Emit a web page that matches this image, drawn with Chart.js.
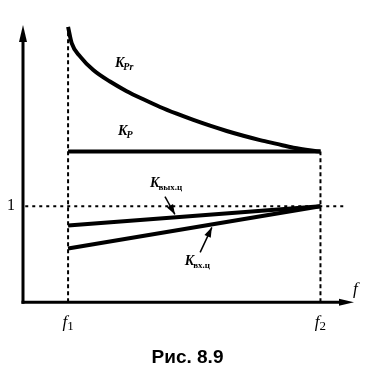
<!DOCTYPE html>
<html><head><meta charset="utf-8">
<script src="https://cdn.jsdelivr.net/npm/chart.js@4/dist/chart.umd.min.js"></script>
<style>html,body{margin:0;padding:0;background:#fff}#wrap{width:375px;height:375px}</style>
</head><body><div id="wrap"><canvas id="c" width="375" height="375"></canvas></div>
<script>
// ---- data ----
const F1 = 1.0, F2 = 6.6;
const kprF  = [1.00, 1.08, 1.27, 1.56, 1.93, 2.30, 2.67, 3.04, 3.41, 3.78, 4.15, 4.52, 4.89, 5.26, 5.63, 6.00, 6.60];
const kprK  = [2.87, 2.70, 2.56, 2.42, 2.30, 2.20, 2.115, 2.035, 1.965, 1.90, 1.84, 1.785, 1.735, 1.69, 1.65, 1.61, 1.57];
const kpF   = [F1, F2];
const kpK   = [1.57, 1.57];
const kvyhF = [F1, F2];
const kvyhK = [0.80, 1.00];
const kvhF  = [F1, F2];
const kvhK  = [0.56, 1.00];
const unityF = [0.05, 7.14];
const unityK = [1, 1];
const xTicks = [F1, F2];
const xTickMain = ['f', 'f'];
const xTickSub  = ['1', '2'];
const yTicks = [1];
const yTickLabels = ['1'];
const X_MAX = 7.81, X_AXIS_END = 7.3, Y_MAX = 2.9;

const pts = (fs, ks) => fs.map((f, i) => ({x: f, y: ks[i]}));
const interp = (fs, ks, f) => {
  for (let i = 0; i < fs.length - 1; i++) {
    if (f >= fs[i] && f <= fs[i+1]) return ks[i] + (ks[i+1]-ks[i])*(f-fs[i])/(fs[i+1]-fs[i]);
  }
  return ks[ks.length-1];
};

// label placement (layout, in data units)
const curveLabels = [
  {main: 'K', sub: 'Pr',    f: 2.04, k: 2.45},
  {main: 'K', sub: 'P',     f: 2.11, k: 1.74},
  {main: 'K', sub: 'вых.ц', f: 2.82, k: 1.20},
  {main: 'K', sub: 'вх.ц',  f: 3.59, k: 0.39}
];
const pointers = [
  {fromF: 3.15, fromK: 1.10, toF: 3.37, fs: kvyhF, ks: kvyhK, dk: 0.03},
  {fromF: 3.93, fromK: 0.52, toF: 4.19, fs: kvhF,  ks: kvhK,  dk: -0.03}
];

function arrowHead(ctx, x1, y1, x2, y2, len, half) {
  const a = Math.atan2(y2 - y1, x2 - x1);
  ctx.beginPath();
  ctx.moveTo(x2, y2);
  ctx.lineTo(x2 - len*Math.cos(a) + half*Math.sin(a), y2 - len*Math.sin(a) - half*Math.cos(a));
  ctx.lineTo(x2 - len*Math.cos(a) - half*Math.sin(a), y2 - len*Math.sin(a) + half*Math.cos(a));
  ctx.closePath();
  ctx.fill();
}

const decor = {
  id: 'decor',
  afterDatasetsDraw(chart) {
    const {ctx} = chart;
    const xs = chart.scales.x, ys = chart.scales.y;
    const x0 = xs.getPixelForValue(0), y0 = ys.getPixelForValue(0);
    const yTop = ys.getPixelForValue(Y_MAX), xEnd = xs.getPixelForValue(X_AXIS_END);
    ctx.save();
    ctx.fillStyle = '#000'; ctx.strokeStyle = '#000';
    // axes
    ctx.lineWidth = 3; ctx.lineCap = 'butt';
    ctx.beginPath(); ctx.moveTo(x0, y0 + 1.5); ctx.lineTo(x0, yTop + 10); ctx.stroke();
    ctx.beginPath(); ctx.moveTo(x0 - 1.5, y0); ctx.lineTo(xEnd - 8, y0); ctx.stroke();
    arrowHead(ctx, x0, y0, x0, yTop + 1, 17, 4);
    arrowHead(ctx, x0, y0, xEnd + 2, y0, 15, 3.5);
    // axis name f
    ctx.font = 'italic 17px "Liberation Serif"';
    ctx.textAlign = 'left'; ctx.textBaseline = 'alphabetic';
    ctx.fillText('f', xEnd + 1, y0 - 8);
    // x tick labels f1, f2 (from the scale's ticks)
    xs.ticks.forEach((t, i) => {
      const px = xs.getPixelForValue(t.value);
      ctx.font = 'italic 17px "Liberation Serif"';
      const wm = ctx.measureText(xTickMain[i]).width;
      ctx.font = '13px "Liberation Serif"';
      const ws = ctx.measureText(xTickSub[i]).width;
      const left = px - (wm + ws) / 2;
      ctx.font = 'italic 17px "Liberation Serif"';
      ctx.fillText(xTickMain[i], left, y0 + 25);
      ctx.font = '13px "Liberation Serif"';
      ctx.fillText(xTickSub[i], left + wm, y0 + 28);
    });
    // curve labels
    curveLabels.forEach(l => {
      const px = xs.getPixelForValue(l.f), py = ys.getPixelForValue(l.k);
      ctx.font = 'italic bold 14px "Liberation Serif"';
      ctx.fillText(l.main, px, py);
      const w = ctx.measureText(l.main).width;
      ctx.font = (l.sub.length > 2 ? 'bold 9px' : 'italic bold 10px') + ' "Liberation Serif"';
      ctx.fillText(l.sub, px + w - 1, py + 3);
    });
    // pointer arrows
    ctx.lineWidth = 1.5;
    pointers.forEach(p => {
      const x1 = xs.getPixelForValue(p.fromF), y1 = ys.getPixelForValue(p.fromK);
      const tk = interp(p.fs, p.ks, p.toF) + p.dk;
      const x2 = xs.getPixelForValue(p.toF), y2 = ys.getPixelForValue(tk);
      ctx.beginPath(); ctx.moveTo(x1, y1); ctx.lineTo(x2, y2); ctx.stroke();
      arrowHead(ctx, x1, y1, x2, y2, 10, 3.5);
    });
    ctx.restore();
  }
};

const solid = {borderColor: '#000', borderWidth: 4, pointRadius: 0, fill: false, order: 1};
const dashed = {borderColor: '#000', borderWidth: 2, pointRadius: 0, fill: false, order: 2, tension: 0};

new Chart(document.getElementById('c'), {
  type: 'line',
  data: {
    datasets: [
      Object.assign({label: 'K_Pr', data: pts(kprF, kprK), cubicInterpolationMode: 'monotone'}, solid),
      Object.assign({label: 'K_P', data: pts(kpF, kpK)}, solid),
      Object.assign({label: 'K_вых.ц', data: pts(kvyhF, kvyhK)}, solid),
      Object.assign({label: 'K_вх.ц', data: pts(kvhF, kvhK)}, solid),
      Object.assign({label: 'f1', data: [{x: F1, y: 0}, {x: F1, y: kprK[0]}], borderDash: [4, 3]}, dashed),
      Object.assign({label: 'f2', data: [{x: F2, y: 0}, {x: F2, y: kpK[1]}], borderDash: [4, 3]}, dashed),
      Object.assign({label: '1', data: pts(unityF, unityK), borderDash: [3, 4]}, dashed)
    ]
  },
  options: {
    responsive: false,
    animation: false,
    layout: {padding: {top: 24, right: 0, left: 0, bottom: 0}},
    plugins: {
      legend: {display: false},
      tooltip: {enabled: false},
      title: {
        display: true, position: 'bottom', text: 'Рис. 8.9', color: '#000',
        font: {family: '"Liberation Sans"', size: 19, weight: 'bold'},
        padding: {top: 14, bottom: 6}
      }
    },
    scales: {
      x: {
        type: 'linear', min: 0, max: X_MAX,
        grid: {display: false, drawTicks: false},
        border: {display: false},
        afterFit: s => { s.height = 30; },
        afterBuildTicks: s => { s.ticks = xTicks.map(v => ({value: v})); },
        ticks: {display: false}
      },
      y: {
        type: 'linear', min: 0, max: Y_MAX,
        grid: {display: false, drawTicks: false},
        border: {display: false},
        afterFit: s => { s.width = 23; },
        afterBuildTicks: s => { s.ticks = yTicks.map(v => ({value: v})); },
        ticks: {
          padding: 8, color: '#000',
          font: {family: '"Liberation Serif"', size: 16},
          callback: (v, i) => yTickLabels[i]
        }
      }
    }
  },
  plugins: [decor]
});
</script>
</body></html>
